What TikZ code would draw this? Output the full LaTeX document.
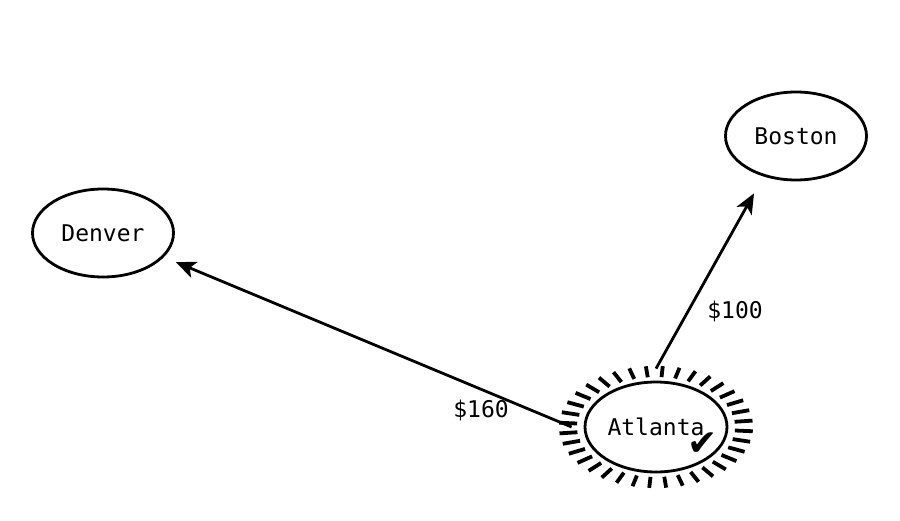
\documentclass[tikz,border=0pt]{standalone}
\usepackage{fontspec}
\setmonofont{DejaVu Sans Mono}
\newfontfamily\symfont{DejaVu Sans}
\usetikzlibrary{shapes.geometric,arrows.meta,calc}
\begin{document}
\begin{tikzpicture}[x=1pt,y=-1pt,
  city/.style={draw,line width=2.8pt,ellipse,minimum width=141pt,minimum height=88pt,inner sep=0pt,font=\ttfamily\fontsize{23}{27}\selectfont},
  link/.style={line width=2.8pt,-{Stealth[length=20pt,width=17pt,inset=5pt]}},
  cost/.style={font=\ttfamily\fontsize{23}{27}\selectfont},
  ray/.style={line width=3.8pt}]
\useasboundingbox (0,0) rectangle (900,521);
\node[city] (den) at (103,233) {Denver};
\node[city] (bos) at (796,136) {Boston};
\node[city,minimum width=142pt,minimum height=90pt] (atl) at (656,427) {Atlanta};
\foreach \i in {0,...,35}{
  \pgfmathsetmacro{\a}{\i*10+4}
  \draw[ray] ($(atl)+({79*cos(\a)},{50*sin(\a)})$) -- ($(atl)+({97*cos(\a)},{61*sin(\a)})$);
}
\node[font=\symfont\fontsize{36}{36}\selectfont,inner sep=0pt] (chk) at (703,444) {✔};
\draw[link] ($(atl.west)+(-12,0)$) -- ($(den.south east)+(22,-3)$);
\draw[link] ($(atl.north)+(0,-12)$) -- ($(bos.south)+(-42,12)$);
\node[cost] (c160) at (481,410) {\$160};
\node[cost] (c100) at (735,311) {\$100};
\end{tikzpicture}
\end{document}
